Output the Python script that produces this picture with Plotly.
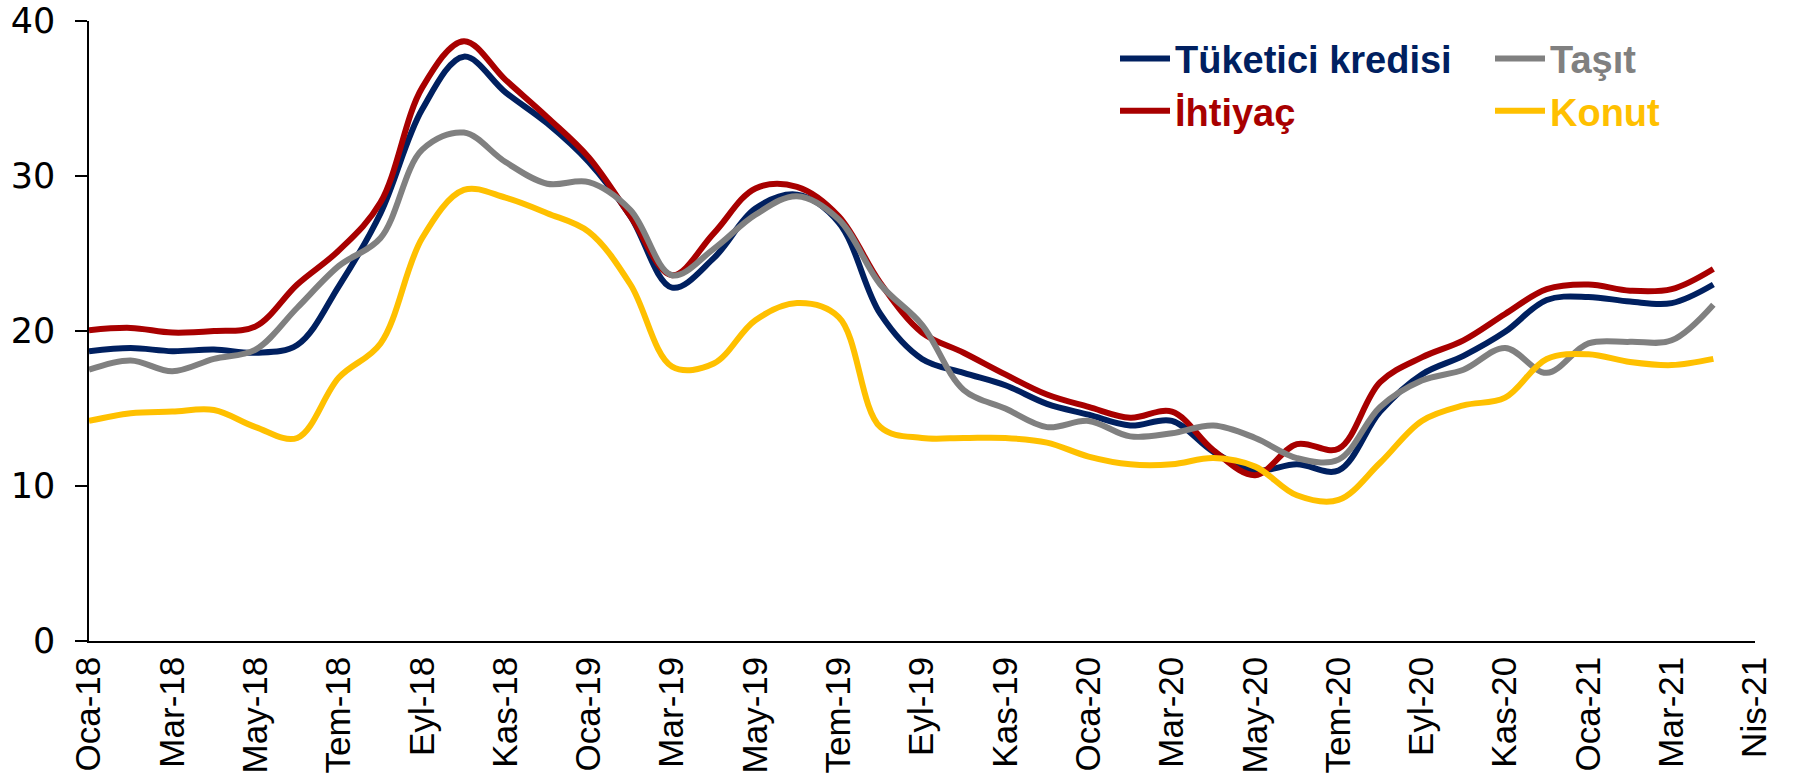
import plotly.graph_objects as go

# Monthly index 0 = Oca-18 ... 39 = Nis-21
months = list(range(40))

tuketici = [18.7, 18.9, 18.7, 18.8, 18.6, 19.1, 22.9, 27.6, 34.3, 37.7,
            35.4, 33.4, 30.9, 27.4, 22.8, 24.7, 27.9, 28.8, 27.0, 21.1,
            18.2, 17.3, 16.5, 15.3, 14.6, 13.9, 14.2, 12.2, 11.0, 11.4,
            11.0, 14.8, 17.2, 18.4, 19.95, 22.0, 22.2, 21.9, 21.8, 23.0]
ihtiyac = [20.05, 20.2, 19.9, 20.0, 20.3, 23.0, 25.2, 28.3, 35.7, 38.7,
           36.2, 33.8, 31.2, 27.4, 23.6, 26.3, 29.2, 29.3, 27.4, 23.1,
           19.9, 18.6, 17.2, 15.9, 15.1, 14.4, 14.8, 12.3, 10.7, 12.7,
           12.4, 16.7, 18.3, 19.4, 21.1, 22.7, 23.0, 22.6, 22.7, 24.0]
tasit = [17.5, 18.1, 17.4, 18.2, 18.8, 21.5, 24.2, 26.0, 31.7, 32.8,
         30.9, 29.5, 29.6, 27.8, 23.6, 25.3, 27.5, 28.7, 27.2, 23.0,
         20.4, 16.2, 15.0, 13.8, 14.2, 13.2, 13.4, 13.9, 13.1, 11.8,
         11.7, 15.1, 16.8, 17.5, 18.9, 17.3, 19.2, 19.3, 19.4, 21.7]
konut = [14.2, 14.7, 14.8, 14.9, 13.8, 13.1, 17.0, 19.2, 26.0, 29.1,
         28.6, 27.6, 26.4, 23.0, 17.7, 17.9, 20.7, 21.8, 20.9, 13.8,
         13.1, 13.1, 13.1, 12.8, 11.9, 11.4, 11.4, 11.8, 11.25, 9.4,
         9.1, 11.5, 14.2, 15.2, 15.7, 18.2, 18.5, 18.0, 17.8, 18.2]

tick_vals = list(range(0, 41, 2))
tick_text = ["Oca-18", "Mar-18", "May-18", "Tem-18", "Eyl-18", "Kas-18",
             "Oca-19", "Mar-19", "May-19", "Tem-19", "Eyl-19", "Kas-19",
             "Oca-20", "Mar-20", "May-20", "Tem-20", "Eyl-20", "Kas-20",
             "Oca-21", "Mar-21", "Nis-21"]

series = [
    ("Tüketici kredisi", tuketici, "#002060", "legend"),
    ("İhtiyaç", ihtiyac, "#A80000", "legend"),
    ("Taşıt", tasit, "#808080", "legend2"),
    ("Konut", konut, "#FFC000", "legend2"),
]

fig = go.Figure()
for i, (name, vals, color, leg) in enumerate(series):
    fig.add_trace(go.Scatter(
        x=months, y=vals, mode="lines",
        name=f'<span style="color:{color}">{name}</span>',
        line=dict(color=color, width=6, shape="spline", smoothing=1.0),
        legend=leg, legendgroup=name, legendrank=i,
        hoverinfo="skip",
    ))

legend_common = dict(
    font=dict(family="Liberation Sans, Arial, sans-serif", size=38, color="#000000", weight="bold"),
    bgcolor="rgba(0,0,0,0)", borderwidth=0,
    orientation="v", xanchor="left", yanchor="top",
    tracegroupgap=8, itemwidth=50, traceorder="normal",
)

fig.update_layout(
    width=1793, height=782,
    margin=dict(l=89, r=38, t=21, b=141, autoexpand=False),
    paper_bgcolor="white", plot_bgcolor="white",
    showlegend=True,
    legend=dict(x=(1115 - 89) / 1666, y=0.99, **legend_common),
    legend2=dict(x=(1490 - 89) / 1666, y=0.99, **legend_common),
    xaxis=dict(
        range=[0, 40], tickmode="array", tickvals=tick_vals, ticktext=tick_text,
        tickangle=-90, showline=True, linecolor="#000000", linewidth=1.5,
        ticks="", showgrid=False, zeroline=False, automargin=False,
        ticklabeloverflow="allow",
        tickfont=dict(family="Liberation Sans, Arial, sans-serif", size=35, color="#000000"),
    ),
    yaxis=dict(
        range=[0, 40], tickmode="array", tickvals=[0, 10, 20, 30, 40],
        showline=True, linecolor="#000000", linewidth=1.5,
        ticks="outside", ticklen=12, tickwidth=1.5, tickcolor="#000000",
        showgrid=False, zeroline=False, ticklabelstandoff=13, automargin=False,
        ticklabeloverflow="allow",
        tickfont=dict(family="DejaVu Sans, Verdana, sans-serif", size=35, color="#000000"),
    ),
)

# remove the default page margin so the figure fills the window exactly
fig.write_html(
    "out.html",
    config={"displayModeBar": False},
    post_script="document.body.style.margin='0px';document.body.style.overflow='hidden';",
)
